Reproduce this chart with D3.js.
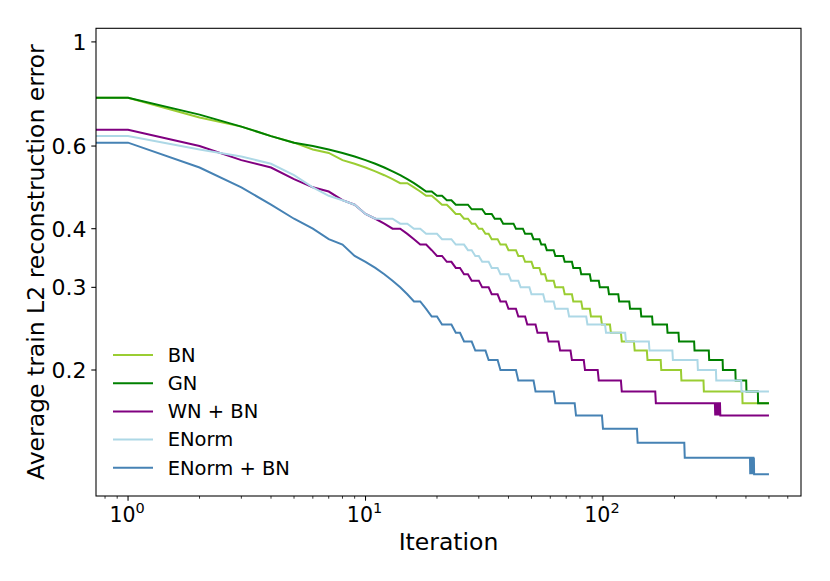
<!DOCTYPE html>
<html>
<head>
<meta charset="utf-8">
<script src="https://cdn.jsdelivr.net/npm/d3@7"></script>
<style>
    body { margin: 0; background: #fff; }
    text { font-family: "DejaVu Sans", sans-serif; fill: #000; }
</style>
</head>
<body>
<div class="chart"></div>
<script>
'use strict';

// values are rounded to 0.01, so each entry is [iteration where value changes, value]
var bnSteps = [[1,.76],[2,.69],[3,.66],[4,.63],[5,.61],[6,.59],[7,.58],[8,.56],[9,.55],[10,.54],[11,.53],[12,.52],[13,.51],[14,.50],
    [16,.49],[17,.48],[18,.47],[20,.46],[21,.45],[23,.44],[24,.43],[26,.42],[28,.41],[30,.40],[32,.39],[34,.38],[37,.37],[40,.36],
    [44,.35],[47,.34],[51,.33],[55,.32],[58,.31],[63,.30],[69,.29],[75,.28],[82,.27],[89,.26],[99,.25],[108,.24],[120,.23],[136,.22],
    [154,.21],[176,.20],[214,.19],[266,.18],[387,.17]];

var gnSteps = [[1,.76],[2,.70],[3,.66],[4,.63],[5,.61],[6,.60],[7,.59],[8,.58],[9,.57],[10,.56],[11,.55],[12,.54],[13,.53],[14,.52],
    [15,.51],[16,.50],[17,.49],[18,.48],[20,.47],[22,.46],[24,.45],[28,.44],[32,.43],[35,.42],[38,.41],[43,.40],[47,.39],[51,.38],
    [55,.37],[58,.36],[63,.35],[69,.34],[75,.33],[81,.32],[89,.31],[97,.30],[106,.29],[117,.28],[130,.27],[145,.26],[162,.25],
    [187,.24],[209,.23],[243,.22],[280,.21],[320,.20],[362,.19],[402,.18],[450,.17]];

var wnbnSteps = [[1,.65],[2,.60],[3,.56],[4,.54],[5,.51],[6,.49],[7,.48],[8,.46],[9,.45],[10,.43],[11,.42],[12,.41],[13,.40],
    [15,.39],[16,.38],[17,.37],[19,.36],[20,.35],[22,.34],[24,.33],[26,.32],[28,.31],[31,.30],[34,.29],[37,.28],[40,.27],[44,.26],
    [48,.25],[53,.24],[59,.23],[66,.22],[74,.21],[84,.20],[96,.19],[120,.18],[167,.17],[297,.16],[298,.17],[300,.16],[301,.17],
    [304,.16],[305,.17],[308,.16],[309,.17],[312,.16]];

var enormSteps = [[1,.63],[2,.59],[3,.57],[4,.55],[5,.52],[6,.49],[7,.47],[8,.46],[9,.45],[10,.43],[11,.42],[14,.41],[16,.40],
    [18,.39],[21,.38],[24,.37],[27,.36],[29,.35],[31,.34],[34,.33],[37,.32],[41,.31],[45,.30],[50,.29],[57,.28],[63,.27],[72,.26],
    [86,.25],[103,.24],[125,.23],[157,.22],[197,.21],[251,.20],[300,.19],[383,.18]];

var enormBnSteps = [[1,.61],[2,.54],[3,.49],[4,.45],[5,.42],[6,.40],[7,.38],[8,.37],[9,.35],[10,.34],[11,.33],[12,.32],[13,.31],
    [14,.30],[15,.29],[16,.28],[18,.27],[19,.26],[21,.25],[24,.24],[26,.23],[29,.22],[33,.21],[37,.20],[44,.19],[52,.18],[63,.17],
    [77,.16],[100,.15],[140,.14],[221,.13],[417,.12],[418,.13],[421,.12],[422,.13],[426,.12],[427,.13],[431,.12],[432,.13],[433,.12]];

var seriesNames = ['BN', 'GN', 'WN + BN', 'ENorm', 'ENorm + BN'];
var seriesColors = ['#9acd32', '#008000', '#800080', '#add8e6', '#4682b4'];
var allSteps = [bnSteps, gnSteps, wnbnSteps, enormSteps, enormBnSteps];

var firstIteration = 1;
var lastIteration = 500;
var yLimits = [0.1078, 1.069];

var xMajorTicks = [1, 10, 100];
var yTickValues = [0.2, 0.3, 0.4, 0.6, 1];
var yTickLabels = ['0.2', '0.3', '0.4', '0.6', '1'];

var width = 830, height = 581;
var plotLeft = 96, plotRight = 801, plotTop = 28.3, plotBottom = 496;

var svg = d3.select(".chart").append("svg")
    .attr("width", width)
    .attr("height", height);

// matplotlib style 5% margin in log space
var lo = Math.log10(firstIteration), hi = Math.log10(lastIteration);
var pad = 0.05 * (hi - lo);
var x = d3.scaleLog()
    .domain([Math.pow(10, lo - pad), Math.pow(10, hi + pad)])
    .range([plotLeft, plotRight]);
var y = d3.scaleLog()
    .domain(yLimits)
    .range([plotBottom, plotTop]);

svg.append("clipPath").attr("id", "plot-clip")
    .append("rect")
    .attr("x", plotLeft).attr("y", plotTop)
    .attr("width", plotRight - plotLeft).attr("height", plotBottom - plotTop);

function stepPoints(steps) {
    var pts = [[x.domain()[0], steps[0][1]]];
    for (var i = 0; i < steps.length; i++) {
        if (i > 0 && steps[i][0] - steps[i-1][0] > 1)
            pts.push([steps[i][0] - 1, steps[i-1][1]]);
        pts.push(steps[i]);
    }
    var last = steps[steps.length - 1];
    if (last[0] < lastIteration) pts.push([lastIteration, last[1]]);
    return pts;
}

var line = d3.line()
    .x(function (d) { return x(d[0]); })
    .y(function (d) { return y(d[1]); });

svg.append("g").attr("clip-path", "url(#plot-clip)")
    .selectAll("path").data(allSteps)
    .enter().append("path")
    .attr("d", function (d) { return line(stepPoints(d)); })
    .attr("fill", "none")
    .attr("stroke", function (d, i) { return seriesColors[i]; })
    .attr("stroke-width", 2)
    .attr("stroke-linejoin", "miter");

// x ticks
var xMinor = [];
[0.1, 1, 10, 100].forEach(function (dec) {
    for (var k = 2; k < 10; k++) {
        var v = dec * k;
        if (v >= x.domain()[0] && v <= x.domain()[1]) xMinor.push(v);
    }
});

var axes = svg.append("g");
axes.selectAll(".xminor").data(xMinor).enter().append("line")
    .attr("x1", function (d) { return x(d); }).attr("x2", function (d) { return x(d); })
    .attr("y1", plotBottom).attr("y2", plotBottom + 2.7)
    .attr("stroke", "#000").attr("stroke-width", 0.8);

axes.selectAll(".xmajor").data(xMajorTicks).enter().append("line")
    .attr("x1", function (d) { return x(d); }).attr("x2", function (d) { return x(d); })
    .attr("y1", plotBottom).attr("y2", plotBottom + 4.7)
    .attr("stroke", "#000").attr("stroke-width", 1.07);

var xLabels = axes.selectAll(".xlabel").data(xMajorTicks).enter().append("text")
    .attr("x", function (d) { return x(d) - 1; })
    .attr("y", 521.5)
    .attr("text-anchor", "middle")
    .style("font-size", "20.5px");
xLabels.append("tspan").text("10");
xLabels.append("tspan")
    .attr("dy", -8.5)
    .style("font-size", "14.5px")
    .text(function (d) { return Math.round(Math.log10(d)); });

axes.selectAll(".ytick").data(yTickValues).enter().append("line")
    .attr("x1", plotLeft - 4.7).attr("x2", plotLeft)
    .attr("y1", function (d) { return y(d); }).attr("y2", function (d) { return y(d); })
    .attr("stroke", "#000").attr("stroke-width", 1.07);

axes.selectAll(".ylabel").data(yTickValues).enter().append("text")
    .attr("x", plotLeft - 9.5)
    .attr("y", function (d) { return y(d); })
    .attr("dy", "0.36em")
    .attr("text-anchor", "end")
    .style("font-size", "22px")
    .text(function (d, i) { return yTickLabels[i]; });

// frame
svg.append("rect")
    .attr("x", plotLeft).attr("y", plotTop)
    .attr("width", plotRight - plotLeft).attr("height", plotBottom - plotTop)
    .attr("fill", "none")
    .attr("stroke", "#000")
    .attr("stroke-width", 1.07);

svg.append("text")
    .attr("x", (plotLeft + plotRight) / 2)
    .attr("y", 550)
    .attr("text-anchor", "middle")
    .style("font-size", "23.5px")
    .text("Iteration");

svg.append("text")
    .attr("transform", "translate(43.5," + ((plotTop + plotBottom) / 2) + ") rotate(-90)")
    .attr("text-anchor", "middle")
    .style("font-size", "23.5px")
    .text("Average train L2 reconstruction error");

// legend, no frame
var legend = svg.append("g").attr("transform", "translate(113,355)");
var rows = legend.selectAll("g").data(seriesNames).enter().append("g")
    .attr("transform", function (d, i) { return "translate(0," + (i * 28.2) + ")"; });
rows.append("line")
    .attr("x1", 0).attr("x2", 40)
    .attr("stroke", function (d, i) { return seriesColors[i]; })
    .attr("stroke-width", 2);
rows.append("text")
    .attr("x", 54.7)
    .attr("dy", "0.35em")
    .style("font-size", "19.5px")
    .text(function (d) { return d; });
</script>
</body>
</html>
